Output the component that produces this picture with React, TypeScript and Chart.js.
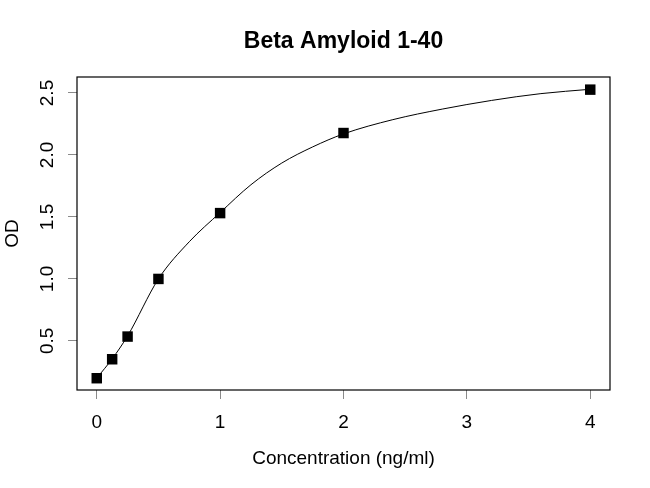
import React, { useEffect, useRef } from "react";
import { Chart, registerables, type ChartConfiguration, type Plugin } from "chart.js";

Chart.register(...registerables);

// ---- standards ----
const concentration = [0, 0.125, 0.25, 0.5, 1, 2, 4];
const od = [0.199, 0.352, 0.535, 1.0, 1.531, 2.177, 2.527];

// ---- fitted curve ----
const curveX = [0, 0.125, 0.25, 0.5, 0.75, 1, 1.25, 1.5, 1.75, 2, 2.4, 2.8, 3.2, 3.6, 4];
const curveY = [0.2, 0.355, 0.54, 1.0, 1.3, 1.535, 1.76, 1.935, 2.065, 2.17, 2.285, 2.37, 2.44, 2.495, 2.53];

const xTicks = [0, 1, 2, 3, 4];
const yTicks = [0.5, 1.0, 1.5, 2.0, 2.5];
const xRange = [-0.16, 4.16];
const yRange = [0.104, 2.629];

const chartTitle = "Beta Amyloid 1-40";
const xTitle = "Concentration (ng/ml)";
const yTitle = "OD";

const FONT = '"Liberation Sans", Arial, sans-serif';

// base-R look: box around plot, rotated y labels, titles placed by hand
const basePlotPlugin: Plugin = {
  id: "basePlot",
  afterDraw(chart) {
    const { ctx, chartArea: a, scales } = chart;
    const sx = scales.x;
    const sy = scales.y;
    const cx = (a.left + a.right) / 2;
    const cy = (a.top + a.bottom) / 2;

    ctx.save();
    ctx.strokeStyle = "#000";
    ctx.lineWidth = 1.2;
    ctx.strokeRect(a.left, a.top, a.right - a.left, a.bottom - a.top);

    ctx.fillStyle = "#000";
    ctx.textBaseline = "alphabetic";
    ctx.textAlign = "center";

    ctx.font = `19px ${FONT}`;
    xTicks.forEach((v) => ctx.fillText(String(v), sx.getPixelForValue(v), 428));

    yTicks.forEach((v) => {
      ctx.save();
      ctx.translate(53, sy.getPixelForValue(v));
      ctx.rotate(-Math.PI / 2);
      ctx.fillText(v.toFixed(1), 0, 0);
      ctx.restore();
    });

    ctx.fillText(xTitle, cx, 464);

    ctx.save();
    ctx.translate(18, cy);
    ctx.rotate(-Math.PI / 2);
    ctx.fillText(yTitle, 0, 0);
    ctx.restore();

    ctx.font = `bold 23px ${FONT}`;
    ctx.fillText(chartTitle, cx, 48);
    ctx.restore();
  },
};

const tickGrid = { drawOnChartArea: false, drawTicks: true, tickLength: 9, color: "#8a8a8a", lineWidth: 1 };

const App: React.FC = () => {
  const canvasRef = useRef<HTMLCanvasElement | null>(null);

  useEffect(() => {
    document.body.style.margin = "0";
    const ctx = canvasRef.current?.getContext("2d");
    if (!ctx) return;

    const config: ChartConfiguration<"line"> = {
      type: "line",
      data: {
        datasets: [
          {
            data: curveX.map((c, i) => ({ x: c, y: curveY[i] })),
            borderColor: "#000",
            borderWidth: 1,
            cubicInterpolationMode: "monotone",
            pointRadius: 0,
          },
          {
            data: concentration.map((c, i) => ({ x: c, y: od[i] })),
            showLine: false,
            pointStyle: "rect",
            pointRadius: 7.4,
            pointBackgroundColor: "#000",
            pointBorderWidth: 0,
          },
        ],
      },
      options: {
        responsive: false,
        animation: false,
        layout: { padding: { top: 77, right: 40, bottom: 0, left: 0 } },
        plugins: { legend: { display: false }, title: { display: false }, tooltip: { enabled: false } },
        scales: {
          x: {
            type: "linear",
            min: xRange[0],
            max: xRange[1],
            grid: tickGrid,
            border: { display: false },
            ticks: { display: false },
            afterBuildTicks: (s) => { s.ticks = xTicks.map((v) => ({ value: v })); },
            afterFit: (s) => { s.height = 98; },
          },
          y: {
            type: "linear",
            min: yRange[0],
            max: yRange[1],
            grid: tickGrid,
            border: { display: false },
            ticks: { display: false },
            afterBuildTicks: (s) => { s.ticks = yTicks.map((v) => ({ value: v })); },
            afterFit: (s) => { s.width = 77; },
          },
        },
      },
      plugins: [basePlotPlugin],
    };

    const chart = new Chart(ctx, config);
    return () => chart.destroy();
  }, []);

  return (
    <div style={{ width: 650, height: 488, background: "#fff" }}>
      <canvas ref={canvasRef} width={650} height={488} style={{ display: "block" }} />
    </div>
  );
};

export default App;
